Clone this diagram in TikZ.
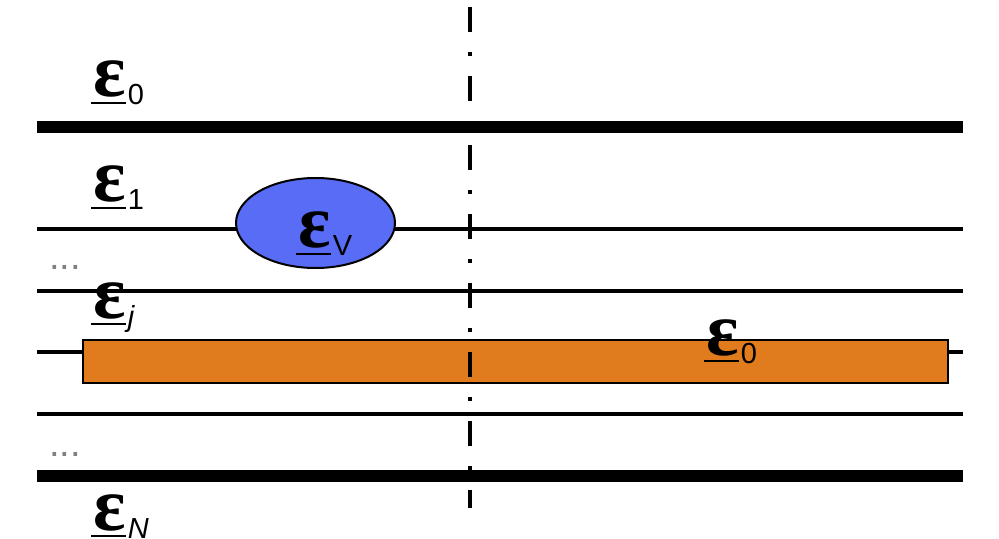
\documentclass[tikz,border=0pt]{standalone}
\usepackage{fontspec}
\setmainfont{Liberation Sans}
\newfontfamily\epsfont{Liberation Serif}
\usetikzlibrary{shapes.geometric}
\definecolor{ellblue}{RGB}{88,108,245}
\definecolor{rectorange}{RGB}{224,123,30}
\newcommand{\epsglyph}{{\fontsize{38}{38}\selectfont\epsfont\bfseries ε}}
\newcommand{\eul}{\setbox0\hbox{\epsglyph}\rlap{\kern-1pt\rule[-3.5pt]{\dimexpr\wd0+1pt\relax}{1.2pt}}\box0}
\newcommand{\elabel}[1]{\eul\kern1pt\raisebox{-4pt}{\fontsize{14.5}{14.5}\selectfont #1}}
\begin{document}
\begin{tikzpicture}[x=0.5pt,y=-0.5pt,
  thickline/.style={line width=6pt},
  thinline/.style={line width=1.8pt},
  lbl/.style={anchor=base west, inner sep=0pt},
  dotslbl/.style={anchor=base west, inner sep=0pt, text=gray, font=\fontsize{19}{19}\selectfont},
  axisline/.style={line width=2pt, dash pattern=on 12.5pt off 10pt on 2pt off 10pt}]
\useasboundingbox (0,0) rectangle (999,539);
\fill[white] (0,0) rectangle (999,539);
\draw[thickline] (37,127) -- (963,127);
\draw[thinline] (37,229) -- (963,229);
\draw[thinline] (37,291) -- (963,291);
\draw[thinline] (37,352) -- (963,352);
\draw[thinline] (37,414) -- (963,414);
\draw[thickline] (37,476) -- (963,476);
\node[ellipse, draw, fill=ellblue, line width=1pt, minimum width=79.5pt, minimum height=45pt, inner sep=0pt] (ell) at (315.5,223) {};
\node[draw, fill=rectorange, line width=1pt, minimum width=432.5pt, minimum height=21.5pt, inner sep=0pt] (rect) at (515.5,361.5) {};
\coordinate (atop) at (470,7);
\coordinate (abot) at (470,508);
\draw[axisline] (atop) -- (abot);
\node[lbl] (e0) at (93,97) {\elabel{0}};
\node[lbl] (e1) at (93,202) {\elabel{1}};
\node[lbl] (ev) at (298,248) {\elabel{V}};
\node[lbl] (ej) at (93,318) {\elabel{\itshape j}};
\node[lbl] (e0r) at (706,355) {\elabel{0}};
\node[lbl] (eN) at (93,530) {\elabel{\itshape N}};
\node[dotslbl] (d1) at (49,270) {...};
\node[dotslbl] (d2) at (49,456) {...};
\end{tikzpicture}
\end{document}
